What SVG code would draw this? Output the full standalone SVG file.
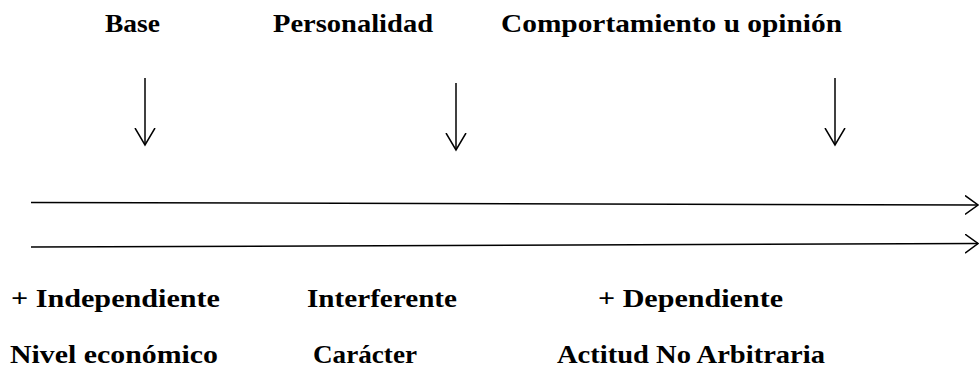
<svg xmlns="http://www.w3.org/2000/svg" width="979" height="368" viewBox="0 0 979 368">
<style>
.t{font-family:'Liberation Serif','DejaVu Serif','Times New Roman',serif;font-weight:bold;font-size:25px;fill:#000}
.c{stroke:#000;stroke-width:1.5;fill:none}
</style>
<defs>
<marker id="ad" markerUnits="userSpaceOnUse" markerWidth="22" markerHeight="24" refX="17" refY="10.5" orient="auto">
<path d="M0,0.5 L17,10.5 L0,20.5" fill="none" stroke="#000" stroke-width="1.5"/>
</marker>
<marker id="ah" markerUnits="userSpaceOnUse" markerWidth="16" markerHeight="22" refX="13" refY="10" orient="auto">
<path d="M0,0.5 L13,10 L0,19.5" fill="none" stroke="#000" stroke-width="1.5"/>
</marker>
</defs>
<g id="base"><text class="t" font-family="Liberation Serif, serif" x="105" y="32" textLength="55" lengthAdjust="spacingAndGlyphs">Base</text></g>
<g id="personalidad"><text class="t" font-family="Liberation Serif, serif" x="273" y="32" textLength="160" lengthAdjust="spacingAndGlyphs">Personalidad</text></g>
<g id="comportamiento"><text class="t" font-family="Liberation Serif, serif" x="501" y="32" textLength="341" lengthAdjust="spacingAndGlyphs">Comportamiento u opinión</text></g>
<g id="independiente"><text class="t" font-family="Liberation Serif, serif" x="11" y="307" textLength="209" lengthAdjust="spacingAndGlyphs">+ Independiente</text></g>
<g id="interferente"><text class="t" font-family="Liberation Serif, serif" x="307" y="307" textLength="150" lengthAdjust="spacingAndGlyphs">Interferente</text></g>
<g id="dependiente"><text class="t" font-family="Liberation Serif, serif" x="598" y="307" textLength="185" lengthAdjust="spacingAndGlyphs">+ Dependiente</text></g>
<g id="nivel"><text class="t" font-family="Liberation Serif, serif" x="10" y="363" textLength="208" lengthAdjust="spacingAndGlyphs">Nivel económico</text></g>
<g id="caracter"><text class="t" font-family="Liberation Serif, serif" x="313" y="363" textLength="104" lengthAdjust="spacingAndGlyphs">Carácter</text></g>
<g id="actitud"><text class="t" font-family="Liberation Serif, serif" x="557" y="363" textLength="268" lengthAdjust="spacingAndGlyphs">Actitud No Arbitraria</text></g>
<g id="connectors">
<line class="c" x1="145" y1="78" x2="145" y2="145" marker-end="url(#ad)"/>
<line class="c" x1="456" y1="83" x2="456" y2="150" marker-end="url(#ad)"/>
<line class="c" x1="835" y1="78" x2="835" y2="145" marker-end="url(#ad)"/>
<line class="c" x1="31" y1="202.5" x2="978" y2="205" marker-end="url(#ah)"/>
<line class="c" x1="31" y1="247" x2="978" y2="243.5" marker-end="url(#ah)"/>
</g>
</svg>
